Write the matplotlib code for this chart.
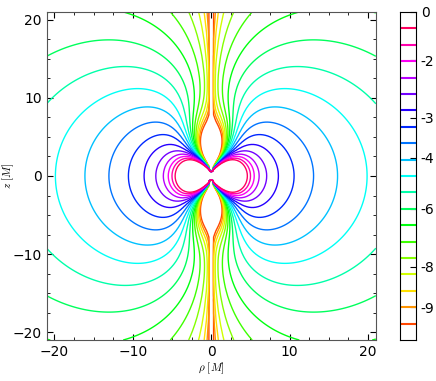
import numpy as np
import matplotlib
matplotlib.use("Agg")
import matplotlib.pyplot as plt
from matplotlib.colors import Normalize

# ---- chart data -------------------------------------------------------
levels = np.arange(-9.5, -0.49, 0.5)          # contour levels (log10 scale)
cbar_range = (-10.0, 0.0)
cbar_tick_values = [0.0, -1.47, -3.23, -4.45, -6.0, -7.77, -9.0]
cbar_tick_labels = ["0", "-2", "-3", "-4", "-6", "-8", "-9"]
axis_ticks = [-20, -10, 0, 10, 20]
axis_limit = 21.0

# ---- field model (Weyl coordinates, rod of half-length sigma) -----------
sigma = 0.6
c_far = 2.144     # far-field amplitude (log10)
b_far = 5.5       # far-field radial fall-off exponent
kappa = 0.5       # extra equatorial concentration
c_core = 8.45     # inner-lobe amplitude (log10)
b_core = 14.3     # inner-lobe radial fall-off exponent
p_core = 6.0      # inner-lobe angular exponent
A0 = 14.5         # near-axis suppression amplitude
R1 = 5.6
k_sup = 3.5
s_far = 0.2       # angular width of the suppression (in sin^2 theta)
s_near = 0.3      # extra width close to the rod
R_s = 2.0

n = 141
rho = np.linspace(-axis_limit, axis_limit, n)
zz = np.linspace(-axis_limit, axis_limit, n)
P, Z = np.meshgrid(rho, zz)
ra = np.sqrt(P**2 + (Z - sigma)**2)
rb = np.sqrt(P**2 + (Z + sigma)**2)
R = 0.5 * (ra + rb)
x = np.maximum(R / sigma, 1 + 1e-12)
y = np.clip((rb - ra) / (2 * sigma), -1, 1)
S = np.clip(1 - y**2, 1e-30, 1)
W = S * (x + 1) / (x - 1)
logF1 = c_far + np.log10(S) + kappa * (S - 1) - b_far * np.log10(R)
logF2 = c_core + p_core * np.log10(W) - b_core * np.log10(R)
A = A0 / (1 + (R / R1)**k_sup)
s_w = s_far + s_near * np.exp(-R / R_s)
F = np.logaddexp(logF1 * np.log(10), logF2 * np.log(10)) / np.log(10) \
    - A * np.exp(-S / s_w)

# ---- figure -----------------------------------------------------------
plt.rcParams["mathtext.fontset"] = "cm"
fig = plt.figure(figsize=(4.36, 3.81), dpi=100)
ax = fig.add_axes([0.107, 0.1076, 0.755, 0.861])
cmap = plt.get_cmap("hsv")
norm = Normalize(*cbar_range)
ax.contour(P, Z, F, levels=levels, cmap=cmap, norm=norm, linewidths=1.0)
ax.set_xlim(-axis_limit, axis_limit)
ax.set_ylim(-axis_limit, axis_limit)
ax.set_xticks(axis_ticks)
ax.set_yticks(axis_ticks)
ax.set_xticks(np.arange(-20, 20.1, 2.5), minor=True)
ax.set_yticks(np.arange(-20, 20.1, 2.5), minor=True)
ax.tick_params(which="both", direction="in", top=True, right=True, labelsize=10)
ax.tick_params(which="major", length=4)
ax.tick_params(which="minor", length=2)
for s in ax.spines.values():
    s.set_color("#555555")
ax.set_xlabel(r"$\rho\ [M]$", fontsize=8)
ax.set_ylabel(r"$z\ [M]$", fontsize=8)
ax.xaxis.set_label_coords(0.5, -0.062)
ax.yaxis.set_label_coords(-0.092, 0.5)

cax = fig.add_axes([0.917, 0.1076, 0.0367, 0.861])
cax.hlines(levels, 0, 1, colors=cmap(norm(levels)), linewidth=1.5)
cax.set_xlim(0, 1)
cax.set_ylim(*cbar_range)
cax.set_xticks([])
cax.yaxis.tick_right()
cax.set_yticks(cbar_tick_values)
cax.set_yticklabels(cbar_tick_labels)
cax.tick_params(direction="in", length=4, labelsize=10)

fig.savefig("out.png", dpi=100)
